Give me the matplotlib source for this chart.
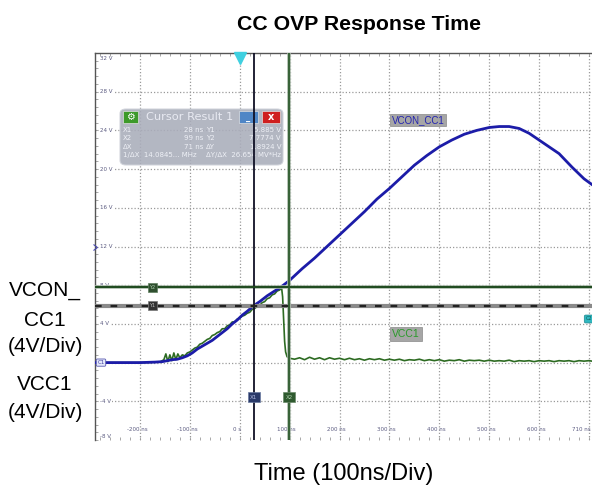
import matplotlib
matplotlib.use('Agg')
import matplotlib.pyplot as plt
from matplotlib.patches import FancyBboxPatch, Rectangle

# ---------------- data ----------------
vcon_t = [-290, -250, -200, -170, -155, -145, -135, -125, -115, -105, -95, -85, -75, -65,
          -55, -45, -35, -25, -15, -5, 5, 15, 28, 40, 55, 70, 82, 100, 125, 150, 175, 200,
          225, 250, 275, 300, 325, 350, 375, 400, 425, 450, 475, 500, 520, 540, 560, 580,
          600, 620, 640, 666, 690, 706]
vcon_v = [0.0, 0.0, 0.0, 0.05, 0.1, 0.2, 0.3, 0.35, 0.5, 0.7, 1.0, 1.4, 1.7, 2.0,
          2.3, 2.7, 3.1, 3.5, 4.0, 4.4, 4.9, 5.3, 5.885, 6.3, 6.9, 7.4, 7.78, 8.5, 9.7, 10.8, 12.0, 13.2,
          14.4, 15.6, 16.9, 18.0, 19.2, 20.4, 21.4, 22.3, 23.0, 23.6, 24.0, 24.3, 24.4, 24.4, 24.2, 23.7,
          23.0, 22.3, 21.6, 20.2, 19.0, 18.4]

vcc_t = [-290, -200, -160, -152, -148, -144, -140, -136, -132, -128, -124, -120, -115, -110,
         -105, -100, -95, -90, -85, -80, -75, -70, -65, -60, -55, -50, -45, -40, -35, -30,
         -25, -20, -15, -10, -5, 0, 5, 10, 15, 20, 25, 30, 35, 40, 45, 50, 55, 60, 65, 70,
         75, 80, 84, 86, 88, 90, 92, 95, 100,
         110, 120, 130, 140, 150, 160, 170, 180, 190, 200, 210, 220, 230, 240, 250, 260,
         270, 280, 290, 300, 310, 320, 330, 340, 350, 360, 370, 380, 390, 400, 410, 420,
         430, 440, 450, 460, 470, 480, 490, 500, 510, 520, 530, 540, 550, 560, 570, 580,
         590, 600, 610, 620, 630, 640, 650, 660, 670, 680, 690, 700, 706]
vcc_v = [0.0, 0.0, 0.05, 0.3, 0.9, 0.1, 0.8, 0.2, 1.0, 0.3, 0.9, 0.5, 0.8, 0.7,
         1.0, 1.1, 1.3, 1.5, 1.6, 1.9, 2.0, 2.2, 2.4, 2.5, 2.8, 2.9, 3.1, 3.2, 3.5, 3.5,
         3.8, 3.9, 4.2, 4.2, 4.5, 4.6, 4.8, 4.9, 5.1, 5.2, 5.5, 5.6, 5.8, 5.9, 6.2, 6.3, 6.6, 6.7, 7.0, 7.1,
         7.4, 7.5, 7.7, 6.8, 4.5, 2.2, 1.1, 0.6, 0.45,
         0.35, 0.5, 0.3, 0.55, 0.35, 0.5, 0.3, 0.5, 0.35, 0.45, 0.3, 0.45, 0.3, 0.4, 0.25, 0.4,
         0.3, 0.4, 0.25, 0.35, 0.25, 0.35, 0.2, 0.3, 0.25, 0.35, 0.2, 0.3, 0.2, 0.3, 0.15, 0.25,
         0.2, 0.3, 0.15, 0.25, 0.2, 0.25, 0.15, 0.25, 0.15, 0.2, 0.15, 0.25, 0.1, 0.2, 0.15, 0.2,
         0.1, 0.2, 0.15, 0.2, 0.1, 0.2, 0.15, 0.2, 0.1, 0.2, 0.15, 0.2, 0.15]

cursor_x = [28, 99]          # ns
cursor_y = [5.885, 7.7774]   # V

y_ticks = [32, 28, 24, 20, 16, 12, 8, 4, -4, -8]
y_tick_labels = ['32 V', '28 V', '24 V', '20 V', '16 V', '12 V', '8 V', '4 V', '-4 V', '-8 V']
x_ticks = [-200, -100, 0, 100, 200, 300, 400, 500, 600, 700]
x_tick_labels = ['-200 ns', '-100 ns', '0 s', '100 ns', '200 ns', '300 ns', '400 ns',
                 '500 ns', '600 ns', '710 ns']

result_rows = [('X1', '28 ns', 'Y1', '5.885 V'),
               ('X2', '99 ns', 'Y2', '7.7774 V'),
               ('\u0394X', '71 ns', '\u0394Y', '1.8924 V')]
result_last = ('1/\u0394X  14.0845... MHz', '\u0394Y/\u0394X  26.654 MV*Hz')

# ---------------- figure ----------------
plt.rcParams['font.family'] = ['Liberation Sans', 'DejaVu Sans']
fig = plt.figure(figsize=(5.92, 4.91), dpi=100)
L, R, T, B = 95, 592, 53, 440
ax = fig.add_axes([L / 592, 1 - B / 491, (R - L) / 592, (B - T) / 491])
ax.set_xlim(-290, 706)
ax.set_ylim(-8, 32)


def axf(px, py):
    return ((px - L) / (R - L), (B - py) / (B - T))


# grid
for yv in range(-4, 32, 4):
    ax.axhline(yv, color='#9a9a9a', lw=0.9, ls=(0, (1, 1.6)), zorder=0)
for xv in x_ticks:
    ax.axvline(xv, color='#9a9a9a', lw=0.9, ls=(0, (1, 1.6)), zorder=0)

ax.set_xticks([])
ax.set_yticks([])
ax.set_xticks(range(-280, 706, 20), minor=True)
ax.set_yticks([v * 0.8 for v in range(-10, 41)], minor=True)
ax.tick_params(which='minor', direction='in', length=2.5, width=0.6, color='#9a9a9a',
               top=True, right=False, left=True, bottom=True)
for s in ['right', 'bottom']:
    ax.spines[s].set_visible(False)
for s in ['left', 'top']:
    ax.spines[s].set_color('#555555')
    ax.spines[s].set_linewidth(1.0)

# in-plot tick labels
for yv, lab in zip(y_ticks, y_tick_labels):
    yy = yv
    if yv == 32:
        yy = 31.4
    if yv == -8:
        yy = -7.6
    ax.text(-280, yy, lab, fontsize=4, color='#5a5a80', ha='left', va='center', zorder=1,
            family='DejaVu Sans',
            bbox=dict(boxstyle='square,pad=0.1', fc='white', ec='none'))
for xv, lab in zip(x_ticks, x_tick_labels):
    ha = 'center'
    xx = xv - 6
    if xv == 700:
        ha = 'right'
        xx = 703
    ax.text(xx, -6.9, lab, fontsize=4, color='#5a5a80', ha=ha, va='center', zorder=1,
            family='DejaVu Sans')

# cursor result box (semi transparent overlay)
tr = ax.transAxes
bx0, by0 = axf(120, 165)
bx1, by1 = axf(283, 109)
box = FancyBboxPatch((bx0, by0), bx1 - bx0, by1 - by0, transform=tr,
                     boxstyle='round,pad=0,rounding_size=0.012', fc='#a9adba', ec='#cfd2da',
                     lw=0.8, alpha=0.88, zorder=2)
ax.add_patch(box)


def button(px0, px1, py0, py1, color):
    a0, b0 = axf(px0, py1)
    a1, b1 = axf(px1, py0)
    ax.add_patch(Rectangle((a0, b0), a1 - a0, b1 - b0, transform=tr, fc=color, ec='#e0e0e0',
                           lw=0.5, zorder=2.5))
    return ((a0 + a1) / 2, (b0 + b1) / 2)


c = button(123, 138, 111, 123, '#3d9a2a')
ax.text(c[0], c[1], '\u2699', transform=tr, fontsize=7, color='white', ha='center',
        va='center', family='DejaVu Sans', zorder=2.6)
c = button(239, 258, 111, 123, '#4f86c6')
ax.text(c[0], c[1] - 0.005, '_', transform=tr, fontsize=6, color='white', ha='center',
        va='center', family='DejaVu Sans', zorder=2.6, fontweight='bold')
c = button(262, 280, 111, 123, '#cf1f1f')
ax.text(c[0], c[1], 'x', transform=tr, fontsize=7, color='white', ha='center',
        va='center', family='DejaVu Sans', zorder=2.6, fontweight='bold')
p = axf(190, 117)
ax.text(p[0], p[1], 'Cursor Result 1', transform=tr, fontsize=8.2, color='#e8eaf2',
        ha='center', va='center', family='DejaVu Sans', zorder=2.6)
row_y = [130, 138, 147]
for (a, b, cc, d), ry in zip(result_rows, row_y):
    for txt, px, ha in ((a, 123, 'left'), (b, 203, 'right'), (cc, 206, 'left'), (d, 281, 'right')):
        q = axf(px, ry)
        ax.text(q[0], q[1], txt, transform=tr, fontsize=5, color='#eef0f6', ha=ha,
                va='center', family='DejaVu Sans', zorder=2.6)
q = axf(123, 155)
ax.text(q[0], q[1], result_last[0], transform=tr, fontsize=5, color='#eef0f6', ha='left',
        va='center', family='DejaVu Sans', zorder=2.6)
q = axf(281, 155)
ax.text(q[0], q[1], result_last[1], transform=tr, fontsize=5, color='#eef0f6', ha='right',
        va='center', family='DejaVu Sans', zorder=2.6)

# traces
ax.plot(vcc_t, vcc_v, color='#2d6b22', lw=1.2, zorder=3)
ax.plot(vcon_t, vcon_v, color='#1c1ca8', lw=2.0, zorder=4)

# cursors
ax.axhline(cursor_y[0], color='#8a8a8a', lw=3.0, zorder=5)
ax.axhline(cursor_y[0], color='#222222', lw=1.6, ls=(0, (3, 4)), zorder=5.1)
ax.axhline(cursor_y[1], color='#a8b8a8', lw=2.6, zorder=5)
ax.axhline(cursor_y[1], color='#1e4a1e', lw=1.4, zorder=5.1)
ax.axvline(cursor_x[0], color='#101025', lw=1.3, zorder=5)
ax.axvline(cursor_x[1], color='#a8b8a8', lw=2.6, zorder=5)
ax.axvline(cursor_x[1], color='#2c5a2c', lw=1.3, zorder=5.1)

# cursor tags
ax.text(-175, cursor_y[1], 'Y2', fontsize=3.5, color='#b0d0b0', ha='center', va='center',
        family='DejaVu Sans', zorder=6,
        bbox=dict(boxstyle='square,pad=0.35', fc='#2f4f2f', ec='#5f7f5f', lw=0.5))
ax.text(-175, cursor_y[0], 'Y1', fontsize=3.5, color='#c0c0c0', ha='center', va='center',
        family='DejaVu Sans', zorder=6,
        bbox=dict(boxstyle='square,pad=0.35', fc='#333333', ec='#777777', lw=0.5))
ax.text(cursor_x[0], -3.6, 'X1', fontsize=4, color='#b0b8e0', ha='center', va='center',
        family='DejaVu Sans', zorder=6,
        bbox=dict(boxstyle='square,pad=0.45', fc='#2a3a6a', ec='#6a7aa0', lw=0.5))
ax.text(cursor_x[1], -3.6, 'X2', fontsize=4, color='#b0d0b0', ha='center', va='center',
        family='DejaVu Sans', zorder=6,
        bbox=dict(boxstyle='square,pad=0.45', fc='#2f5a2f', ec='#6a8a6a', lw=0.5))

# trace labels
p = axf(418, 120)
ax.text(p[0], p[1], 'VCON_CC1', transform=tr, fontsize=7, color='#2323b0', ha='center',
        va='center', zorder=6,
        bbox=dict(boxstyle='square,pad=0.15', fc='#a6a6a6', ec='#8a8a8a', lw=0.5))
p = axf(406, 334)
ax.text(p[0], p[1], 'VCC1', transform=tr, fontsize=7.5, color='#2a9a2a', ha='center',
        va='center', zorder=6,
        bbox=dict(boxstyle='square,pad=0.2', fc='#a6a6a6', ec='#8a8a8a', lw=0.5))

# scope markers
p = axf(240, 58)
ax.plot([p[0]], [p[1]], marker='v', ms=8, color='#40d0e0', transform=tr, clip_on=False,
        zorder=7)
p = axf(101, 362.6)
ax.text(p[0], p[1], 'C1', transform=tr, fontsize=4, color='#4040a0', ha='center',
        va='center', zorder=7, family='DejaVu Sans',
        bbox=dict(boxstyle='round,pad=0.2', fc='#e4e8fa', ec='#5a5ab0', lw=0.6))
p = axf(97, 247)
ax.plot([p[0]], [p[1]], marker=5, ms=4, mfc='none', mec='#4a4ab0', mew=0.8,
        transform=tr, clip_on=False, zorder=7)
p = axf(589, 319)
ax.text(p[0], p[1], 'C2', transform=tr, fontsize=3.5, color='#0a5a5a', ha='center',
        va='center', zorder=7, family='DejaVu Sans',
        bbox=dict(boxstyle='round,pad=0.3', fc='#30b8c0', ec='#208890', lw=0.5))

# outer texts
fig.text(359 / 592, 1 - 25 / 491, 'CC OVP Response Time', fontsize=15.3, fontweight='bold',
         ha='center', va='center')
fig.text(344 / 592, 1 - 474 / 491, 'Time (100ns/Div)', fontsize=17, ha='center', va='center')
for txt, yy in (('VCON_', 290), ('CC1', 320), ('(4V/Div)', 347), ('VCC1', 384),
                ('(4V/Div)', 413)):
    fig.text(45 / 592, 1 - yy / 491, txt, fontsize=15, ha='center', va='center')

fig.savefig('out.png', dpi=100)
